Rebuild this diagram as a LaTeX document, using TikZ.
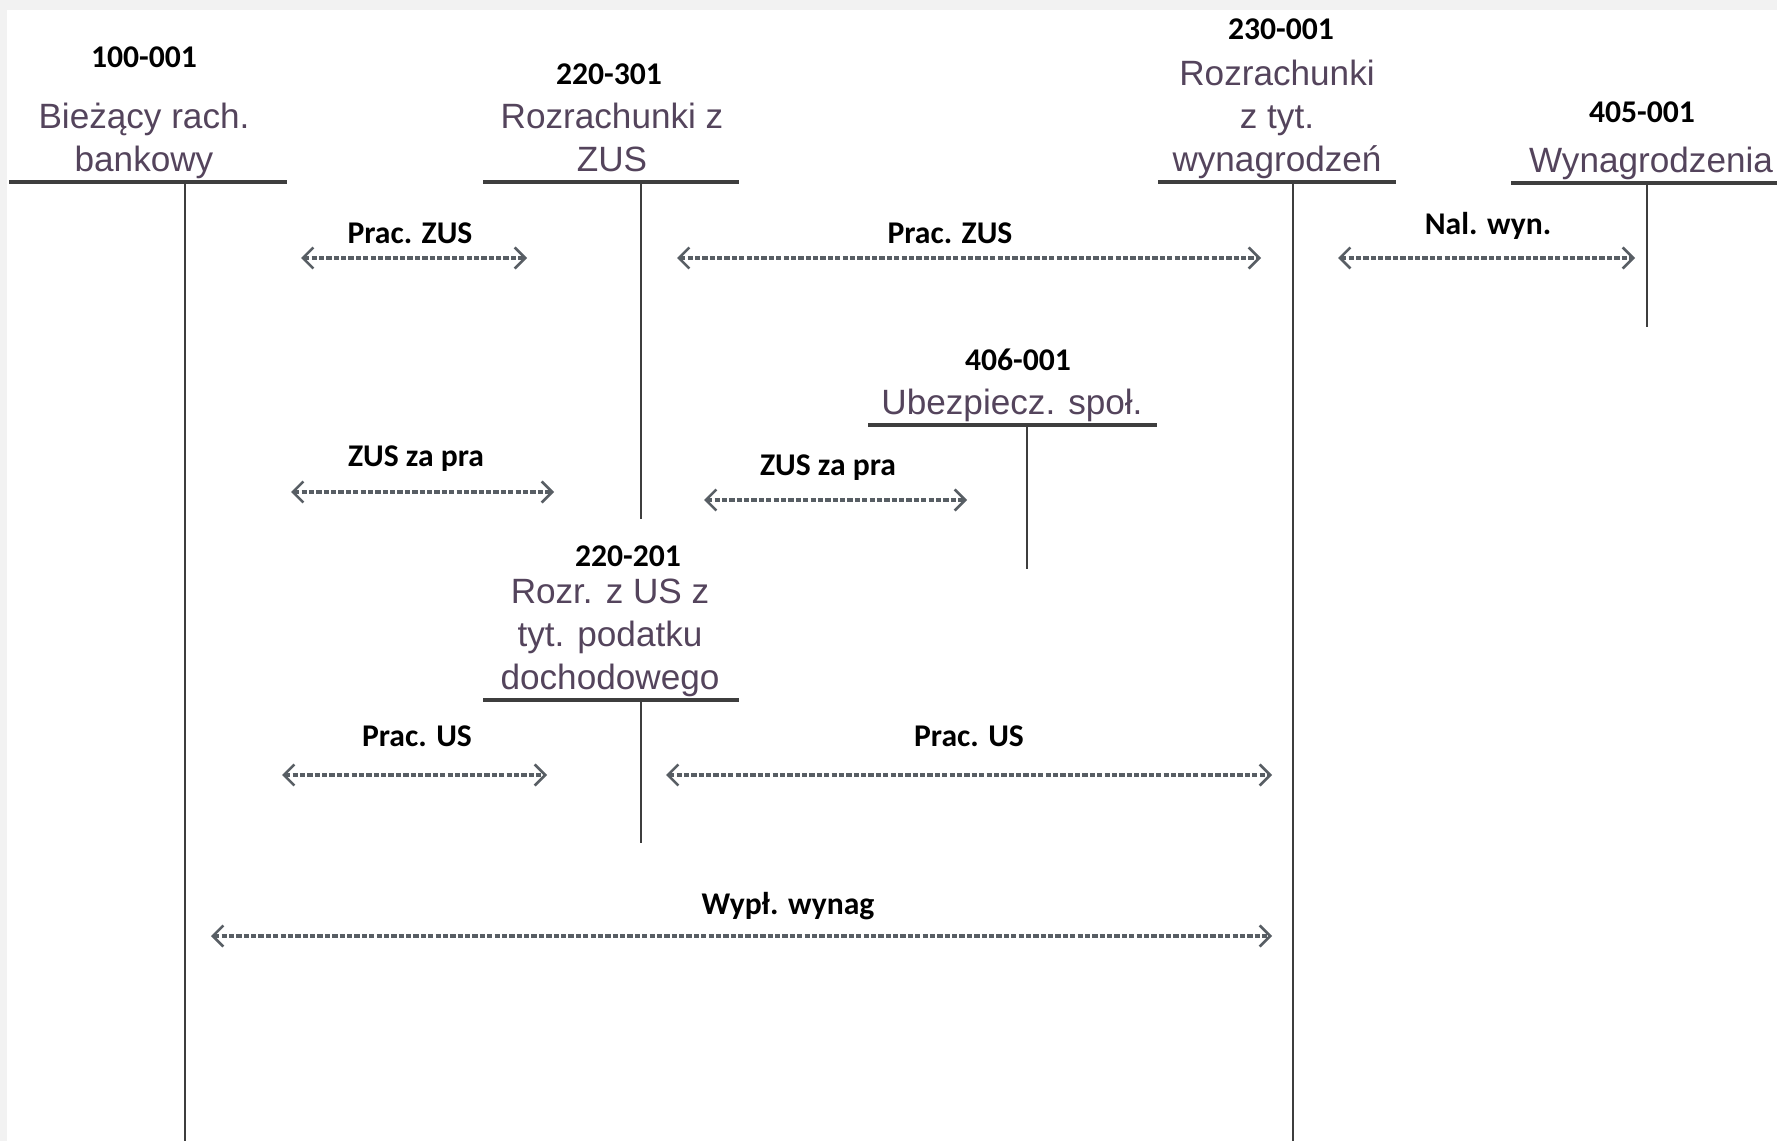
\documentclass[tikz,border=0pt]{standalone}
\usepackage{fontspec}
\usepackage{tikz}
\usetikzlibrary{arrows.meta,positioning}
\newfontfamily\acctfont{Liberation Sans}
\newfontfamily\notefont{Carlito}
\definecolor{AcctText}{RGB}{84,68,92}
\definecolor{LineGray}{RGB}{62,62,62}
\definecolor{FlowGray}{RGB}{88,94,100}
\definecolor{PageGray}{RGB}{242,242,242}
\tikzset{
  acct/.style={anchor=south,inner sep=0pt,align=center,text depth=5.7pt,
    text=AcctText,font=\acctfont\fontsize{20}{24.5}\selectfont},
  code/.style={anchor=base,inner sep=0pt,font=\notefont\bfseries\fontsize{18}{20}\selectfont},
  note/.style={code},
  tline/.style={LineGray,line width=2pt},
  tstem/.style={LineGray,line width=1.5pt},
  flow/.style={FlowGray,line width=1.8pt,dash pattern=on 3pt off 1.2pt,
    {Straight Barb[length=6pt,width=12pt,line width=1.5pt]}-{Straight Barb[length=6pt,width=12pt,line width=1.5pt]}},
}

\begin{document}
\begin{tikzpicture}[x=0.02cm,y=-0.02cm]
      \fill[PageGray] (0,0) rectangle (1777,1141);
      \fill[white] (7,10) rectangle (1777,1141);
      \useasboundingbox (0,0) rectangle (1777,1141);
      % accounts
      \node[code] (c100) at (144,68) {100-001};
      \node[acct] (t100) at (144,182) {Bieżący rach.\\bankowy};
      \draw[tline] (9,182) -- (287,182);
      \draw[tstem] (185,182) -- (185,1141);
      \node[code] (c220a) at (609,85) {220-301};
      \node[acct] (t220a) at (612,182) {Rozrachunki z\\ZUS};
      \draw[tline] (483,182) -- (739,182);
      \draw[tstem] (641,182) -- (641,519);
      \node[code] (c230) at (1281,40) {230-001};
      \node[acct] (t230) at (1277,182) {Rozrachunki\\z tyt.\\wynagrodzeń};
      \draw[tline] (1158,182) -- (1396,182);
      \draw[tstem] (1293,182) -- (1293,1141);
      \node[code] (c405) at (1642,123) {405-001};
      \node[acct] (t405) at (1651,183) {Wynagrodzenia};
      \draw[tline] (1511,183) -- (1777,183);
      \draw[tstem] (1647,183) -- (1647,327);
      \node[code] (c406) at (1018,371) {406-001};
      \node[acct] (t406) at (1012,425) {Ubezpiecz. społ.};
      \draw[tline] (868,425) -- (1157,425);
      \draw[tstem] (1027,425) -- (1027,569);
      \node[code] (c220b) at (628,566) {220-201};
      \node[acct] (t220b) at (610,700) {Rozr. z US z\\tyt. podatku\\dochodowego};
      \draw[tline] (483,700) -- (739,700);
      \draw[tstem] (641,700) -- (641,843);
      % postings
      \coordinate (zus1l) at (301,258);  \coordinate (zus1r) at (527,258);
      \coordinate (zus2l) at (677,258);  \coordinate (zus2r) at (1261,258);
      \coordinate (nall) at (1338,258);  \coordinate (nalr) at (1635,258);
      \coordinate (pra1l) at (291,492);  \coordinate (pra1r) at (554,492);
      \coordinate (pra2l) at (704,500);  \coordinate (pra2r) at (967,500);
      \coordinate (us1l) at (282,775);   \coordinate (us1r) at (547,775);
      \coordinate (us2l) at (666,775);   \coordinate (us2r) at (1272,775);
      \coordinate (wypl) at (211,936);   \coordinate (wypr) at (1272,936);
      \draw[flow] (zus1l) -- (zus1r);
      \draw[flow] (zus2l) -- (zus2r);
      \draw[flow] (nall) -- (nalr);
      \draw[flow] (pra1l) -- (pra1r);
      \draw[flow] (pra2l) -- (pra2r);
      \draw[flow] (us1l) -- (us1r);
      \draw[flow] (us2l) -- (us2r);
      \draw[flow] (wypl) -- (wypr);
      \node[note] (zus1) at (410,244) {Prac. ZUS};
      \node[note] (zus2) at (950,244) {Prac. ZUS};
      \node[note] (nal) at (1488,235) {Nal. wyn.};
      \node[note] (pra1) at (416,467) {ZUS za pra};
      \node[note] (pra2) at (828,476) {ZUS za pra};
      \node[note] (us1) at (417,746) {Prac. US};
      \node[note] (us2) at (969,746) {Prac. US};
      \node[note] (wyp) at (788,914) {Wypł. wynag};
\end{tikzpicture}
\end{document}
